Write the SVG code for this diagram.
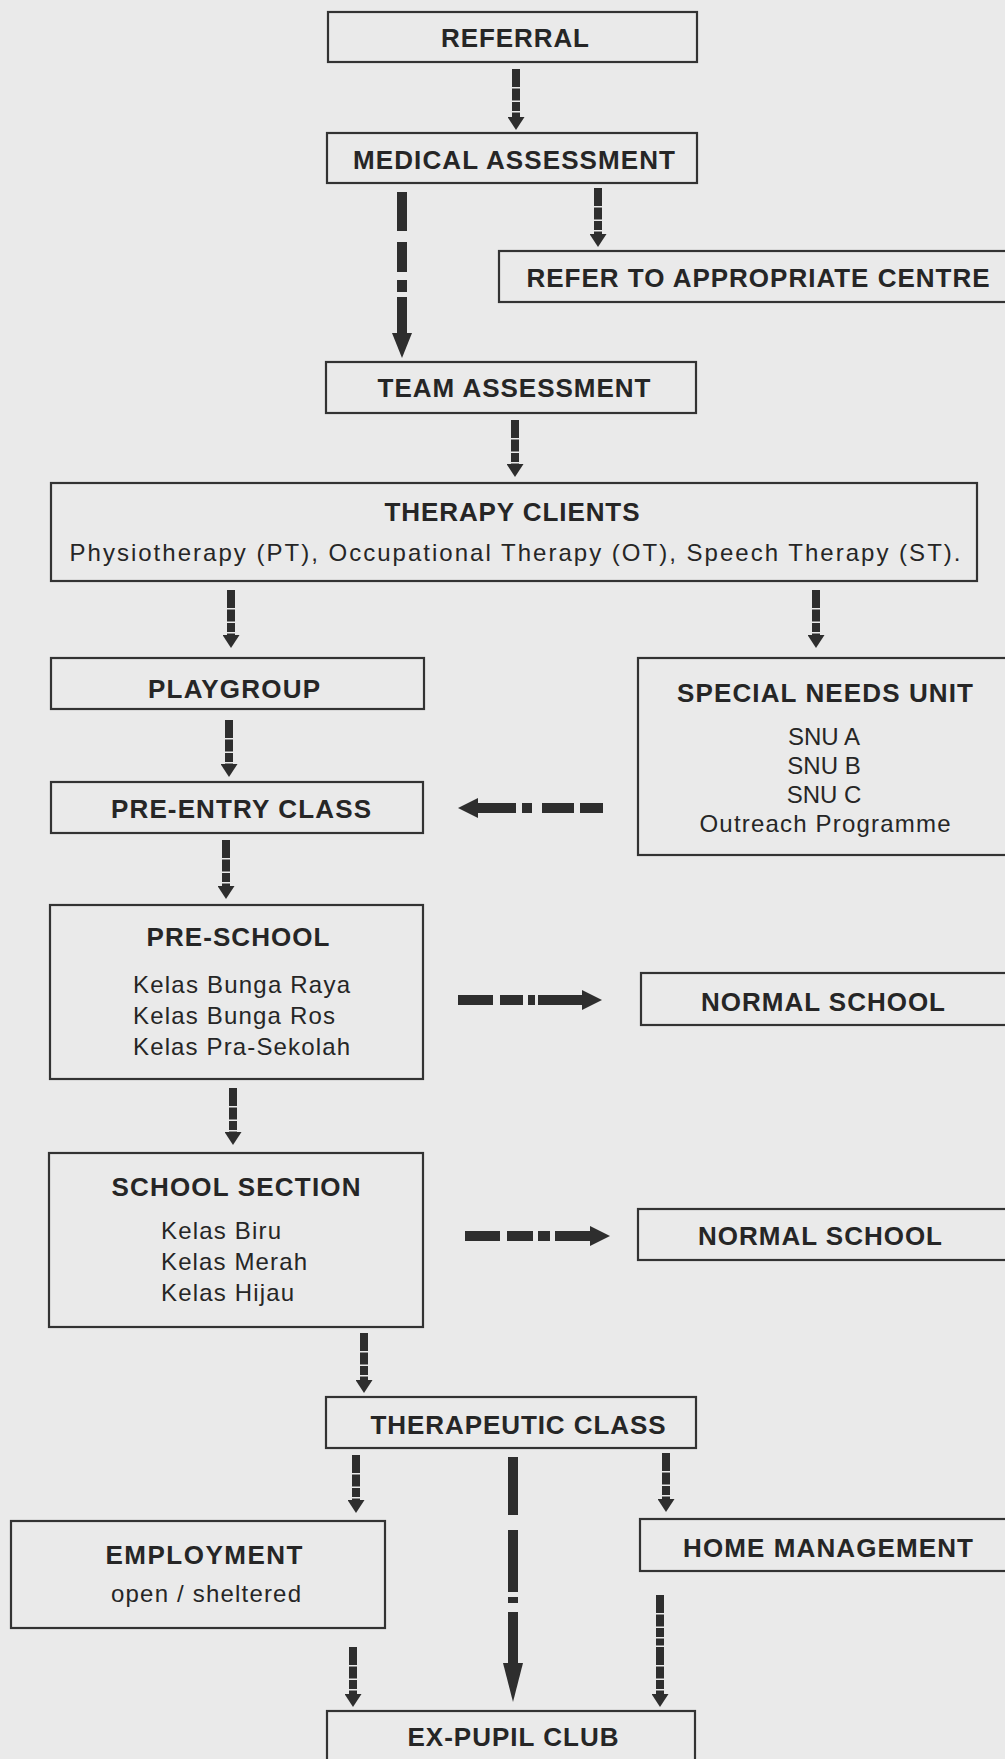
<svg xmlns="http://www.w3.org/2000/svg" width="1005" height="1759" viewBox="0 0 1005 1759">
  <defs>
    <style>
      .box { fill: #eaeaea; stroke: #333; stroke-width: 2.2; }
      .t { font-family: "Liberation Sans", Arial, sans-serif; font-weight: bold; font-size: 26px; fill: #262626; text-anchor: middle; }
      .s { font-family: "Liberation Sans", Arial, sans-serif; font-size: 24px; fill: #262626; }
      .sc { text-anchor: middle; }
      .v { stroke: #2e2e2e; stroke-width: 8; fill: none; stroke-dasharray: 18 1.5 12 1.5 9 1.5 7 1.5; }
      .vl { stroke: #2e2e2e; stroke-width: 10; fill: none; }
      .h { stroke: #2e2e2e; stroke-width: 10; fill: none; }
    </style>
    <marker id="hs" markerUnits="userSpaceOnUse" markerWidth="13" markerHeight="17" refX="0" refY="8.5" orient="auto">
      <path d="M0,0 L13,8.5 L0,17 z" fill="#2e2e2e"/>
    </marker>
    <marker id="hl" markerUnits="userSpaceOnUse" markerWidth="25" markerHeight="20" refX="0" refY="10" orient="auto">
      <path d="M0,0 L25,10 L0,20 z" fill="#2e2e2e"/>
    </marker>
    <marker id="hx" markerUnits="userSpaceOnUse" markerWidth="39" markerHeight="20" refX="0" refY="10" orient="auto">
      <path d="M0,0 L39,10 L0,20 z" fill="#2e2e2e"/>
    </marker>
    <marker id="hh" markerUnits="userSpaceOnUse" markerWidth="20" markerHeight="20" refX="0" refY="10" orient="auto">
      <path d="M0,0 L20,10 L0,20 z" fill="#2e2e2e"/>
    </marker>
  </defs>

  <rect x="0" y="0" width="1005" height="1759" fill="#eaeaea"/>

  <g id="connectors">
    <line class="v" x1="516" y1="69" x2="516" y2="117" marker-end="url(#hs)"/>
    <line class="v" x1="598" y1="188" x2="598" y2="234" marker-end="url(#hs)"/>
    <line class="vl" x1="402" y1="192" x2="402" y2="333" stroke-dasharray="39 11 30 8 12 5 40" marker-end="url(#hl)"/>
    <line class="v" x1="515" y1="420" x2="515" y2="464" marker-end="url(#hs)"/>
    <line class="v" x1="231" y1="590" x2="231" y2="635" marker-end="url(#hs)"/>
    <line class="v" x1="816" y1="590" x2="816" y2="635" marker-end="url(#hs)"/>
    <line class="v" x1="229" y1="720" x2="229" y2="764" marker-end="url(#hs)"/>
    <line class="v" x1="226" y1="840" x2="226" y2="886" marker-end="url(#hs)"/>
    <line class="v" x1="233" y1="1088" x2="233" y2="1132" marker-end="url(#hs)"/>
    <line class="v" x1="364" y1="1333" x2="364" y2="1380" marker-end="url(#hs)"/>
    <line class="v" x1="356" y1="1455" x2="356" y2="1500" marker-end="url(#hs)"/>
    <line class="v" x1="666" y1="1453" x2="666" y2="1499" marker-end="url(#hs)"/>
    <line class="vl" x1="513" y1="1457" x2="513" y2="1663" stroke-dasharray="58 15 62 5 6 9 60" marker-end="url(#hx)"/>
    <line class="v" x1="353" y1="1647" x2="353" y2="1694" marker-end="url(#hs)"/>
    <line class="v" x1="660" y1="1595" x2="660" y2="1694" stroke-dasharray="30 2 22 2 14 2 27 2" marker-end="url(#hs)"/>
    <line class="h" x1="603" y1="808" x2="478" y2="808" stroke-dasharray="23 6 32 10 10 6 38" marker-end="url(#hh)"/>
    <line class="h" x1="458" y1="1000" x2="582" y2="1000" stroke-dasharray="35 7 23 5 7 3 44" marker-end="url(#hh)"/>
    <line class="h" x1="465" y1="1236" x2="590" y2="1236" stroke-dasharray="35 7 26 5 12 5 35" marker-end="url(#hh)"/>
  </g>

  <g id="referral">
    <rect class="box" x="328" y="12" width="369" height="50"/>
    <text class="t" x="515" y="47" textLength="148">REFERRAL</text>
  </g>
  <g id="medical-assessment">
    <rect class="box" x="327" y="133" width="370" height="50"/>
    <text class="t" x="514" y="169" textLength="322">MEDICAL ASSESSMENT</text>
  </g>
  <g id="refer-centre">
    <rect class="box" x="499" y="251" width="515" height="51"/>
    <text class="t" x="758" y="287" textLength="463">REFER TO APPROPRIATE CENTRE</text>
  </g>
  <g id="team-assessment">
    <rect class="box" x="326" y="362" width="370" height="51"/>
    <text class="t" x="514" y="397" textLength="273">TEAM ASSESSMENT</text>
  </g>
  <g id="therapy-clients">
    <rect class="box" x="51" y="483" width="926" height="98"/>
    <text class="t" x="512" y="521" textLength="255">THERAPY CLIENTS</text>
    <text class="s sc" x="515" y="561" textLength="891">Physiotherapy (PT), Occupational Therapy (OT), Speech Therapy (ST).</text>
  </g>
  <g id="playgroup">
    <rect class="box" x="51" y="658" width="373" height="51"/>
    <text class="t" x="234" y="698" textLength="172">PLAYGROUP</text>
  </g>
  <g id="special-needs-unit">
    <rect class="box" x="638" y="658" width="376" height="197"/>
    <text class="t" x="825" y="702" textLength="296">SPECIAL NEEDS UNIT</text>
    <text class="s sc" x="824" y="745">SNU A</text>
    <text class="s sc" x="824" y="774">SNU B</text>
    <text class="s sc" x="824" y="803">SNU C</text>
    <text class="s sc" x="825" y="832" textLength="251">Outreach Programme</text>
  </g>
  <g id="pre-entry-class">
    <rect class="box" x="51" y="782" width="372" height="51"/>
    <text class="t" x="241" y="818" textLength="260">PRE-ENTRY CLASS</text>
  </g>
  <g id="pre-school">
    <rect class="box" x="50" y="905" width="373" height="174"/>
    <text class="t" x="238" y="946" textLength="183">PRE-SCHOOL</text>
    <text class="s" x="133" y="993" textLength="217">Kelas Bunga Raya</text>
    <text class="s" x="133" y="1024" textLength="202">Kelas Bunga Ros</text>
    <text class="s" x="133" y="1055" textLength="217">Kelas Pra-Sekolah</text>
  </g>
  <g id="normal-school-1">
    <rect class="box" x="641" y="973" width="373" height="52"/>
    <text class="t" x="823" y="1011" textLength="244">NORMAL SCHOOL</text>
  </g>
  <g id="school-section">
    <rect class="box" x="49" y="1153" width="374" height="174"/>
    <text class="t" x="236" y="1196" textLength="249">SCHOOL SECTION</text>
    <text class="s" x="161" y="1239" textLength="120">Kelas Biru</text>
    <text class="s" x="161" y="1270" textLength="146">Kelas Merah</text>
    <text class="s" x="161" y="1301" textLength="133">Kelas Hijau</text>
  </g>
  <g id="normal-school-2">
    <rect class="box" x="638" y="1209" width="376" height="51"/>
    <text class="t" x="820" y="1245" textLength="244">NORMAL SCHOOL</text>
  </g>
  <g id="therapeutic-class">
    <rect class="box" x="326" y="1397" width="370" height="51"/>
    <text class="t" x="518" y="1434" textLength="295">THERAPEUTIC CLASS</text>
  </g>
  <g id="employment">
    <rect class="box" x="11" y="1521" width="374" height="107"/>
    <text class="t" x="204" y="1564" textLength="197">EMPLOYMENT</text>
    <text class="s sc" x="206" y="1602" textLength="190">open / sheltered</text>
  </g>
  <g id="home-management">
    <rect class="box" x="640" y="1519" width="374" height="52"/>
    <text class="t" x="828" y="1557" textLength="290">HOME MANAGEMENT</text>
  </g>
  <g id="ex-pupil-club">
    <rect class="box" x="327" y="1711" width="368" height="60"/>
    <text class="t" x="513" y="1746" textLength="211">EX-PUPIL CLUB</text>
  </g>
</svg>
